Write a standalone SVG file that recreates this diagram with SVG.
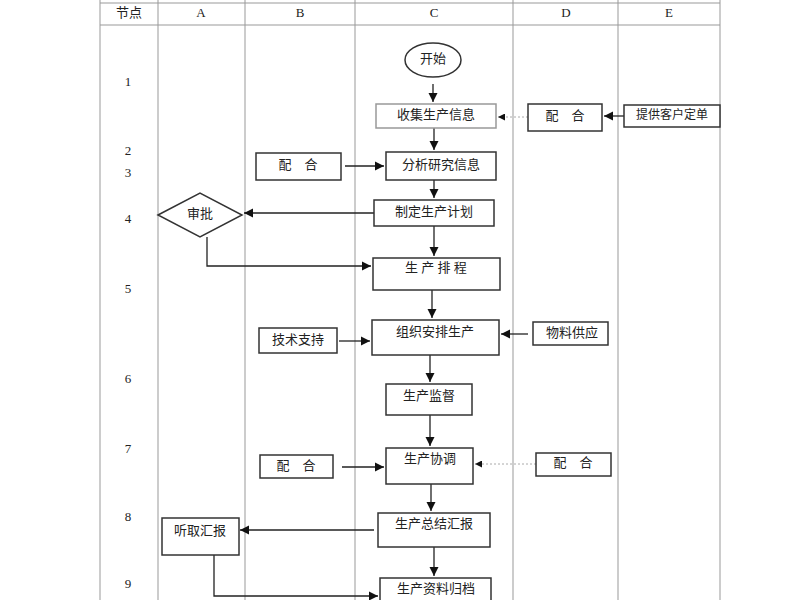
<svg xmlns="http://www.w3.org/2000/svg" width="800" height="600" viewBox="0 0 800 600">
<defs>
<style>
text{font-family:"Liberation Serif","Noto Sans CJK SC",serif;font-size:13px;fill:#222;text-anchor:middle;dominant-baseline:middle}
.b{fill:#fff;stroke:#333;stroke-width:1.5}
.g{stroke:#999;stroke-width:1;fill:none}
.c{stroke:#222;stroke-width:1.3;fill:none;marker-end:url(#a)}
.d{stroke:#aaa;stroke-width:1;stroke-dasharray:2 2;fill:none;marker-end:url(#a)}
</style>
<marker id="a" viewBox="0 0 10 10" refX="10" refY="5" markerWidth="7" markerHeight="7" orient="auto"><path d="M0,0L10,5L0,10z" fill="#111"/></marker>
</defs>
<rect width="800" height="600" fill="#fff"/>
<g id="grid">
<path class="g" d="M100,3H720M100,25H720M100,0V600M158,0V600M245,0V600M355,0V600M513,0V600M618,0V600M720,0V600"/>
<text x="129" y="14">节点</text><text x="201" y="14">A</text><text x="300" y="14">B</text><text x="434" y="14">C</text><text x="566" y="14">D</text><text x="669" y="14">E</text>
<text x="128" y="83">1</text><text x="128" y="152">2</text><text x="128" y="174">3</text><text x="128" y="220">4</text><text x="128" y="290">5</text><text x="128" y="380">6</text><text x="128" y="450">7</text><text x="128" y="518">8</text><text x="128" y="585">9</text>
</g>
<g id="connectors">
<path class="c" d="M433,84V102"/>
<path class="d" d="M528,117H498"/>
<path class="c" d="M624,116H604"/>
<path class="c" d="M434,128V150"/>
<path class="c" d="M345,166H384"/>
<path class="c" d="M434,180V198"/>
<path class="c" d="M374,213H244"/>
<path class="c" d="M434,226V256"/>
<path class="c" d="M207,237V266H371"/>
<path class="c" d="M432,290V318"/>
<path class="c" d="M339,341H370"/>
<path class="c" d="M528,334H501"/>
<path class="c" d="M430,355V382"/>
<path class="c" d="M430,415V446"/>
<path class="c" d="M342,467H384"/>
<path class="d" d="M536,464H475"/>
<path class="c" d="M431,484V511"/>
<path class="c" d="M374,530H240"/>
<path class="c" d="M434,547V576"/>
<path class="c" d="M214,555V596H378"/>
</g>
<g id="n_start"><ellipse cx="433" cy="60" rx="28" ry="17" class="b"/><text x="433" y="60">开始</text></g>
<g id="n_collect"><rect x="376" y="104" width="120" height="24" class="b" style="stroke:#999"/><text x="436" y="116">收集生产信息</text></g>
<g id="n_d1"><rect x="528" y="104" width="74" height="27" class="b"/><text x="565" y="117">配　合</text></g>
<g id="n_e1"><rect x="624" y="105" width="96" height="22" class="b"/><text x="672" y="116" style="font-size:12px">提供客户定单</text></g>
<g id="n_b1"><rect x="256" y="153" width="85" height="27" class="b"/><text x="298" y="166">配　合</text></g>
<g id="n_analyze"><rect x="386" y="152" width="110" height="28" class="b"/><text x="441" y="166">分析研究信息</text></g>
<g id="n_plan"><rect x="374" y="200" width="120" height="26" class="b"/><text x="434" y="213">制定生产计划</text></g>
<g id="n_approve"><polygon points="158,215 200,193 242,215 200,237" class="b"/><text x="200" y="215">审批</text></g>
<g id="n_sched"><rect x="373" y="258" width="127" height="32" class="b"/><text x="436" y="269">生 产 排 程</text></g>
<g id="n_org"><rect x="372" y="320" width="127" height="35" class="b"/><text x="435" y="333">组织安排生产</text></g>
<g id="n_tech"><rect x="259" y="328" width="78" height="25" class="b"/><text x="298" y="341">技术支持</text></g>
<g id="n_mat"><rect x="533" y="322" width="75" height="23" class="b"/><text x="572" y="334">物料供应</text></g>
<g id="n_sup"><rect x="386" y="384" width="86" height="31" class="b"/><text x="429" y="397">生产监督</text></g>
<g id="n_b2"><rect x="260" y="455" width="73" height="23" class="b"/><text x="296" y="467">配　合</text></g>
<g id="n_coord"><rect x="386" y="448" width="87" height="36" class="b"/><text x="430" y="460">生产协调</text></g>
<g id="n_d2"><rect x="536" y="453" width="75" height="23" class="b"/><text x="573" y="464">配　合</text></g>
<g id="n_sum"><rect x="378" y="513" width="112" height="34" class="b"/><text x="434" y="525">生产总结汇报</text></g>
<g id="n_listen"><rect x="162" y="518" width="77" height="37" class="b"/><text x="200" y="532">听取汇报</text></g>
<g id="n_arch"><rect x="380" y="578" width="111" height="30" class="b"/><text x="436" y="590">生产资料归档</text></g>
</svg>
